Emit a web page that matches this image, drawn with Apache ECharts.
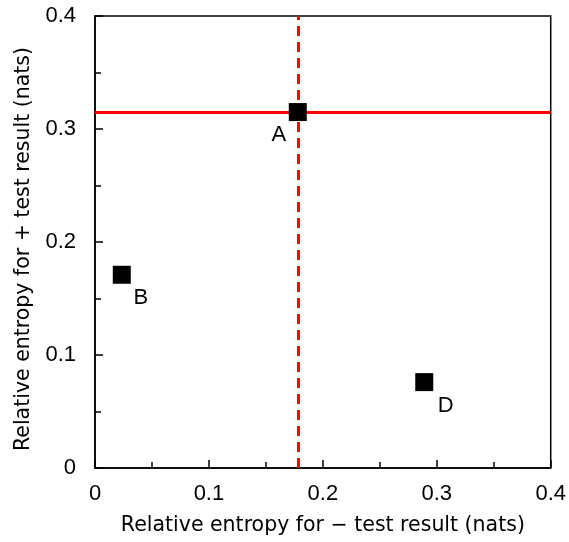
<!DOCTYPE html>
<html><head><meta charset="utf-8">
<script src="https://cdn.jsdelivr.net/npm/echarts@6/dist/echarts.min.js"></script>
<style>html,body{margin:0;padding:0;background:#fff}#c{width:569px;height:542px}</style>
</head><body><div id="c"></div>
<script>
const pointNames = ['A', 'B', 'D'];
const xValues = [0.178, 0.0235, 0.289];
const yValues = [0.315, 0.171, 0.076];
const refX = 0.178;
const refY = 0.315;
const tickValues = [0, 0.1, 0.2, 0.3, 0.4];
const labelPos = {A: [-19, 23], B: [19, 23.5], D: [21.5, 23.5]};

const font = 'Liberation Sans, Arial, sans-serif';
const titleFont = 'DejaVu Sans, Liberation Sans, sans-serif';
const chart = echarts.init(document.getElementById('c'));
const axisCommon = {
  min: 0, max: 0.4, interval: 0.1,
  nameLocation: 'middle',
  nameTextStyle: {fontFamily: titleFont, fontSize: 20.5, color: '#000'},
  axisLine: {show: true, lineStyle: {color: '#000', width: 1.5}},
  axisTick: {show: true, inside: true, length: 8, lineStyle: {color: '#000', width: 1.5}},
  minorTick: {show: true, splitNumber: 2, length: 6, lineStyle: {color: '#000', width: 1.5}},
  splitLine: {show: false},
  axisLabel: {fontFamily: font, fontSize: 22, color: '#000',
    formatter: v => { const t = tickValues.find(u => Math.abs(u - v) < 1e-9); return t === 0 ? '0' : String(+t.toFixed(1)); }}
};
chart.setOption({
  animation: false,
  grid: {left: 95, top: 16, width: 460, height: 452, show: true, borderColor: '#000', borderWidth: 1.5},
  xAxis: Object.assign({}, axisCommon, {
    name: 'Relative entropy for \u2212 test result (nats)', nameGap: 47,
    axisLabel: Object.assign({}, axisCommon.axisLabel, {margin: 15})
  }),
  yAxis: Object.assign({}, axisCommon, {
    name: 'Relative entropy for + test result (nats)', nameGap: 53,
    nameTextStyle: Object.assign({}, axisCommon.nameTextStyle, {padding: [0, 14, 0, 0]}),
    axisLabel: Object.assign({}, axisCommon.axisLabel, {margin: 19})
  }),
  series: [{
    type: 'scatter',
    symbol: 'rect', symbolSize: 18,
    itemStyle: {color: '#000', opacity: 1},
    z: 5,
    data: pointNames.map((n, i) => ({
      value: [xValues[i], yValues[i]], name: n,
      label: {show: true, formatter: n, position: 'inside', offset: labelPos[n],
        fontFamily: font, fontSize: 22, color: '#000'}
    })),
    markLine: {
      silent: true, symbol: 'none', label: {show: false},
      precision: 4,
      z: 3,
      data: [
        {yAxis: refY, lineStyle: {color: '#ff0000', width: 3, type: 'solid', opacity: 1}},
        {xAxis: refX, lineStyle: {color: '#ff0000', width: 3, type: [10, 6], opacity: 1}}
      ]
    }
  }]
});
</script></body></html>
